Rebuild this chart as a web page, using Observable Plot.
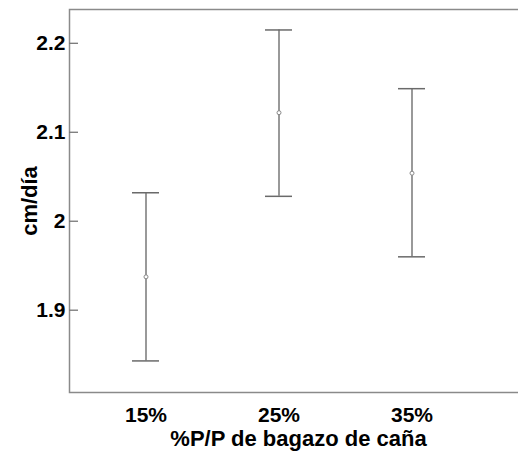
<!DOCTYPE html>
<html>
<head>
<meta charset="utf-8">
<script src="https://cdn.jsdelivr.net/npm/d3@7"></script>
<script src="https://cdn.jsdelivr.net/npm/@observablehq/plot@0.6"></script>
<style>
  html, body { margin: 0; padding: 0; background: #fff; overflow: hidden; }
  #chart svg { overflow: visible; }
</style>
</head>
<body>
<div id="chart"></div>
<script>
const groups = ["15%", "25%", "35%"];
const means = [1.9375, 2.122, 2.054];
const lower = [1.843, 2.028, 1.960];
const upper = [2.032, 2.215, 2.149];
const yTicks = [1.9, 2, 2.1, 2.2];
const xTitle = "%P/P de bagazo de caña";
const yTitle = "cm/día";

const data = groups.map((g, i) => ({g, mean: means[i], lo: lower[i], hi: upper[i]}));

const font = "'Liberation Sans', Arial, sans-serif";
const W = 518, H = 451, mL = 69, mR = -9;
const plotW = W - mL - mR;
const tickLen = 9;

const chart = Plot.plot({
  width: W,
  height: H,
  marginLeft: mL,
  marginRight: mR,
  marginTop: 9,
  marginBottom: 59,
  style: {fontFamily: font, fontWeight: "bold", fontSize: "21px", color: "#000", background: "#fff"},
  x: {type: "band", domain: groups, paddingInner: 0.797, paddingOuter: 0.6203, align: 0.379},
  y: {domain: [1.8075, 2.238]},
  marks: [
    Plot.frame({stroke: "#8a8a8a", strokeWidth: 1.5}),
    Plot.axisY(yTicks, {anchor: "left", tickSize: 0, tickPadding: 4, tickFormat: d => String(d), label: null, fontSize: 21, fontWeight: "bold", fill: "#000"}),
    Plot.ruleY(yTicks, {y: d => d, insetRight: plotW - tickLen, stroke: "#777", strokeWidth: 1.3}),
    Plot.ruleY(yTicks, {y: d => d, insetLeft: plotW - tickLen, stroke: "#c8c8c8", strokeWidth: 1.2}),
    Plot.axisX({anchor: "bottom", tickSize: 0, tickPadding: 15, label: null, fontSize: 21, fontWeight: "bold", fill: "#000"}),
    Plot.text([xTitle], {frameAnchor: "bottom", dy: 53, fontSize: 22, fontWeight: "bold", fill: "#000"}),
    Plot.axisY({anchor: "left", ticks: [], label: yTitle, labelAnchor: "center", labelArrow: "none", labelOffset: 48, fontSize: 22, fontWeight: "bold", fill: "#000"}),
    Plot.ruleX(data, {x: "g", y1: "lo", y2: "hi", stroke: "#555", strokeWidth: 1.2}),
    Plot.tickY(data, {x: "g", y: "hi", stroke: "#6a6a6a", strokeWidth: 1.5}),
    Plot.tickY(data, {x: "g", y: "lo", stroke: "#6a6a6a", strokeWidth: 1.5}),
    Plot.dot(data, {x: "g", y: "mean", r: 2, stroke: "#888", strokeWidth: 1, fill: "#fff"})
  ]
});
document.getElementById("chart").appendChild(chart);
</script>
</body>
</html>
